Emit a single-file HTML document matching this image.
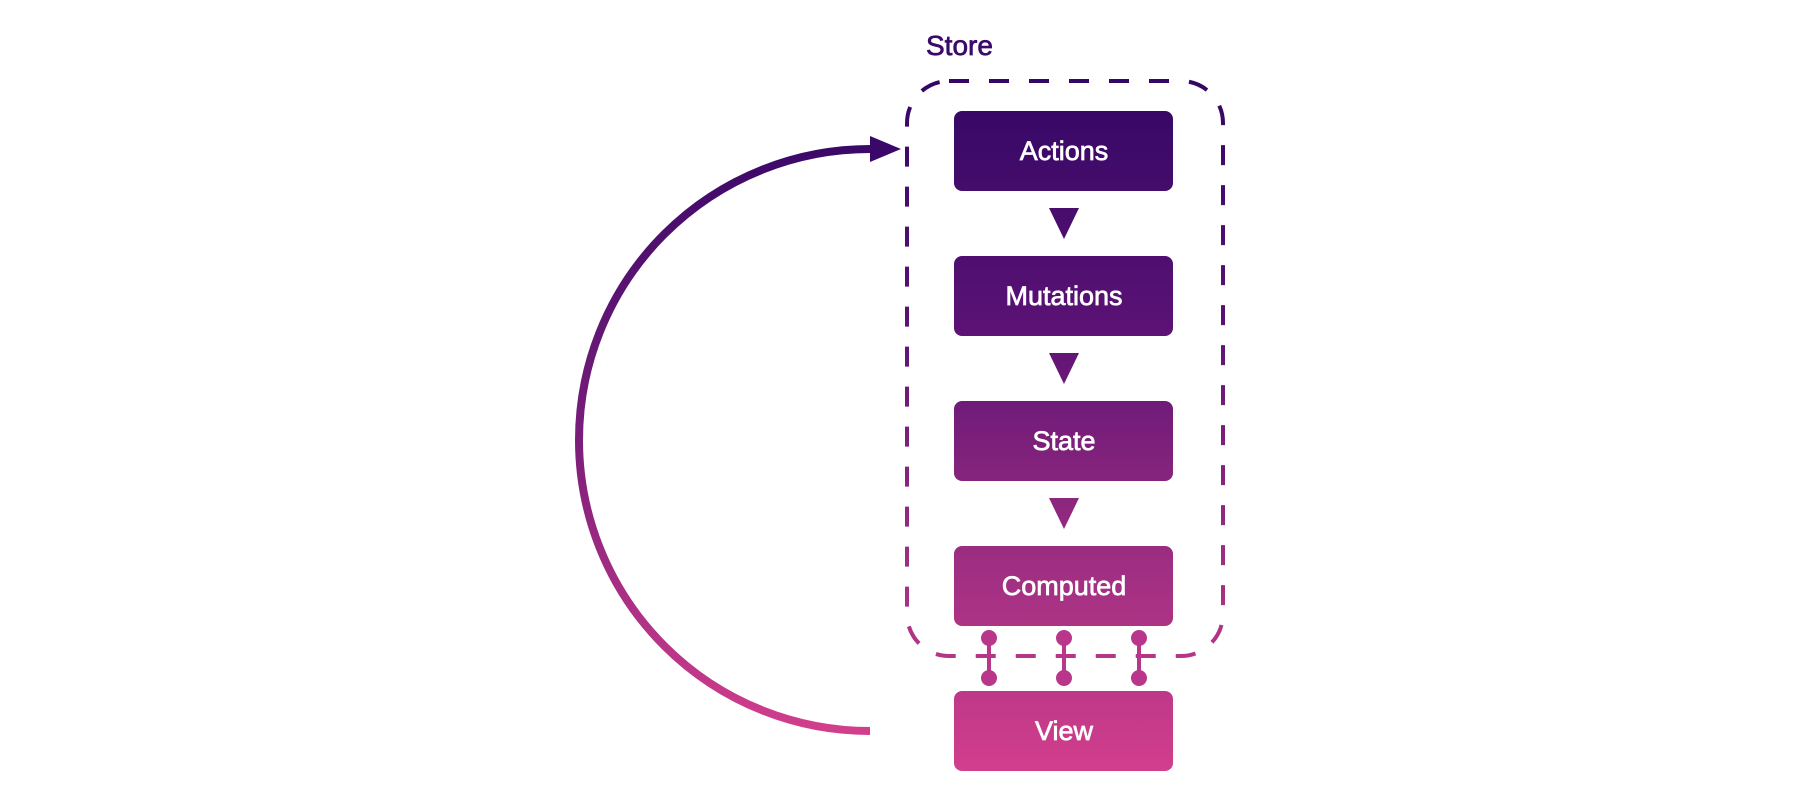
<!DOCTYPE html>
<html><head><meta charset="utf-8"><style>
html,body{margin:0;padding:0;background:#fff;width:1800px;height:800px;overflow:hidden}
text{font-family:"Liberation Sans",sans-serif}
</style></head><body>
<svg width="1800" height="800" viewBox="0 0 1800 800" xmlns="http://www.w3.org/2000/svg">
<defs>
<linearGradient id="g" x1="0" y1="80" x2="0" y2="780" gradientUnits="userSpaceOnUse">
<stop offset="0" stop-color="#330764"/>
<stop offset="0.35" stop-color="#5a1274"/>
<stop offset="0.7" stop-color="#a02f82"/>
<stop offset="1" stop-color="#d43f8d"/>
</linearGradient>
<linearGradient id="a" x1="0" y1="140" x2="0" y2="740" gradientUnits="userSpaceOnUse">
<stop offset="0" stop-color="#3a0868"/>
<stop offset="0.5" stop-color="#7a1e7a"/>
<stop offset="1" stop-color="#d43f8d"/>
</linearGradient>
</defs>
<text x="926" y="55" font-size="28" fill="#3a0a6a" stroke="#3a0a6a" stroke-width="0.7">Store</text>
<rect x="907" y="81" width="316" height="575" rx="42" fill="none" stroke="url(#g)" stroke-width="4" stroke-dasharray="20 20"/>
<path d="M870 149 A291 291 0 0 0 870 731" fill="none" stroke="url(#a)" stroke-width="8"/>
<polygon points="870,136 901,149 870,162" fill="#3a0868"/>
<g fill="url(#g)">
<rect x="954" y="111" width="219" height="80" rx="8"/>
<rect x="954" y="256" width="219" height="80" rx="8"/>
<rect x="954" y="401" width="219" height="80" rx="8"/>
<rect x="954" y="546" width="219" height="80" rx="8"/>
<rect x="954" y="691" width="219" height="80" rx="8"/>
<polygon points="1049,208 1079,208 1064,239"/>
<polygon points="1049,353 1079,353 1064,384"/>
<polygon points="1049,498 1079,498 1064,529"/>
</g>
<g fill="#fff" stroke="#fff" stroke-width="0.7" font-size="27" text-anchor="middle">
<text x="1064" y="160">Actions</text>
<text x="1064" y="305">Mutations</text>
<text x="1064" y="450">State</text>
<text x="1064" y="595">Computed</text>
<text x="1064" y="740">View</text>
</g>
<g fill="#b8378a" stroke="#b8378a" stroke-width="4">
<line x1="989" y1="638" x2="989" y2="678"/><circle cx="989" cy="638" r="6"/><circle cx="989" cy="678" r="6"/>
<line x1="1064" y1="638" x2="1064" y2="678"/><circle cx="1064" cy="638" r="6"/><circle cx="1064" cy="678" r="6"/>
<line x1="1139" y1="638" x2="1139" y2="678"/><circle cx="1139" cy="638" r="6"/><circle cx="1139" cy="678" r="6"/>
</g>
</svg>
</body></html>
